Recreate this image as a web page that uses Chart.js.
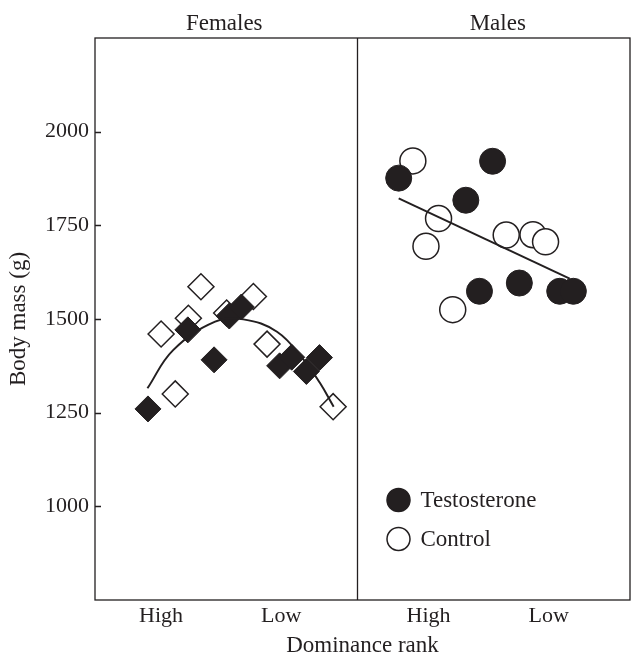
<!DOCTYPE html>
<html>
<head>
<meta charset="utf-8">
<script src="https://cdn.jsdelivr.net/npm/chart.js@4.4.0/dist/chart.umd.min.js"></script>
<style>
html, body { margin: 0; padding: 0; background: #fff; }
#wrap { width: 632px; height: 658px; }
</style>
</head>
<body>
<div id="wrap"><canvas id="chart" width="632" height="658"></canvas></div>
<script>
// Valores (eje x: rango de dominancia, 0-5 hembras, 5-10.2 machos)
const panelLabels = ['Females', 'Males'];
const panelSplit = 5;
const xTickPos = [1.26, 3.55, 6.36, 8.65];
const xTickLabels = ['High', 'Low', 'High', 'Low'];
const yTickValues = [1000, 1250, 1500, 1750, 2000];

const femTestX = [1.01, 1.77, 2.27, 2.56, 2.79, 3.52, 3.75, 4.03, 4.28];
const femTestY = [1260, 1471, 1391, 1508, 1532, 1375, 1398, 1360, 1397];
const femCtrlX = [1.26, 1.53, 1.78, 2.02, 2.51, 3.02, 3.28, 4.54];
const femCtrlY = [1460, 1300, 1502, 1586, 1516, 1560, 1433, 1266];
const femFitX = [1.00, 1.49, 2.29, 2.83, 3.47, 3.98, 4.29, 4.55];
const femFitY = [1315, 1417, 1493, 1499, 1466, 1391, 1329, 1266];

const maleTestX = [5.79, 7.58, 7.07, 7.33, 8.09, 8.86, 9.12];
const maleTestY = [1876, 1921, 1817, 1574, 1596, 1574, 1574];
const maleCtrlX = [6.06, 6.55, 6.31, 7.84, 8.35, 8.59, 6.82];
const maleCtrlY = [1922, 1768, 1694, 1724, 1725, 1706, 1525];
const maleFitX = [5.79, 9.05];
const maleFitY = [1822, 1608];

const legendLabels = ['Testosterone', 'Control'];

const ink = '#231f20';
const serif = '"Liberation Serif", "Times New Roman", serif';

const pts = (xs, ys) => xs.map((x, i) => ({ x: x, y: ys[i] }));

// marco, separador, marcas interiores, títulos de panel y leyenda
const framePlugin = {
    id: 'frame',
    afterDraw(chart) {
        const ctx = chart.ctx;
        const a = chart.chartArea;
        const xs = chart.scales.x;
        const ys = chart.scales.y;
        ctx.save();
        ctx.strokeStyle = ink;
        ctx.lineWidth = 1.3;
        ctx.strokeRect(a.left, a.top, a.right - a.left, a.bottom - a.top);
        const sx = Math.round(xs.getPixelForValue(panelSplit)) + 0.5;
        ctx.beginPath();
        ctx.moveTo(sx, a.top);
        ctx.lineTo(sx, a.bottom);
        yTickValues.forEach(v => {
            const py = Math.round(ys.getPixelForValue(v)) + 0.5;
            ctx.moveTo(a.left, py);
            ctx.lineTo(a.left + 6, py);
        });
        ctx.stroke();

        ctx.fillStyle = ink;
        ctx.font = '23px ' + serif;
        ctx.textAlign = 'center';
        ctx.textBaseline = 'middle';
        ctx.fillText(panelLabels[0], (a.left + sx) / 2 - 2, a.top - 14);
        ctx.fillText(panelLabels[1], (sx + a.right) / 2 + 4, a.top - 14);

        // leyenda
        const lx = sx + 41;
        const ly = [500, 539];
        ctx.textAlign = 'left';
        legendLabels.forEach((t, i) => {
            ctx.beginPath();
            ctx.arc(lx, ly[i], 11.5, 0, Math.PI * 2);
            ctx.fillStyle = i === 0 ? ink : '#fff';
            ctx.fill();
            ctx.lineWidth = 1.5;
            ctx.strokeStyle = ink;
            ctx.stroke();
            ctx.fillStyle = ink;
            ctx.fillText(t, lx + 22, ly[i] + 1);
        });
        ctx.restore();
    }
};

const ctx = document.getElementById('chart').getContext('2d');
new Chart(ctx, {
    type: 'scatter',
    data: {
        datasets: [
            {
                label: 'Females fit',
                type: 'line',
                data: pts(femFitX, femFitY),
                borderColor: ink,
                borderWidth: 2,
                pointRadius: 0,
                tension: 0.4,
                fill: false
            },
            {
                label: 'Males fit',
                type: 'line',
                data: pts(maleFitX, maleFitY),
                borderColor: ink,
                borderWidth: 2,
                pointRadius: 0,
                fill: false
            },
            {
                label: 'Females testosterone',
                data: pts(femTestX, femTestY),
                pointStyle: 'rectRot',
                pointRadius: 13,
                backgroundColor: ink,
                borderColor: ink,
                borderWidth: 1
            },
            {
                label: 'Males testosterone',
                data: pts(maleTestX, maleTestY),
                pointStyle: 'circle',
                pointRadius: 13,
                backgroundColor: ink,
                borderColor: ink,
                borderWidth: 1
            },
            {
                label: 'Females control',
                data: pts(femCtrlX, femCtrlY),
                pointStyle: 'rectRot',
                pointRadius: 13,
                backgroundColor: '#fff',
                borderColor: ink,
                borderWidth: 1.5
            },
            {
                label: 'Males control',
                data: pts(maleCtrlX, maleCtrlY),
                pointStyle: 'circle',
                pointRadius: 13,
                backgroundColor: '#fff',
                borderColor: ink,
                borderWidth: 1.5
            }
        ]
    },
    options: {
        responsive: false,
        animation: false,
        devicePixelRatio: 1,
        layout: { autoPadding: false, padding: { top: 38, right: 2, left: 0, bottom: 0 } },
        plugins: {
            legend: { display: false },
            tooltip: { enabled: false }
        },
        scales: {
            x: {
                type: 'linear',
                min: 0,
                max: 10.2,
                grid: { display: false, drawTicks: false },
                border: { display: false },
                afterBuildTicks: s => { s.ticks = xTickPos.map(v => ({ value: v })); },
                afterFit: s => { s.height = 58; s.paddingLeft = 0; s.paddingRight = 0; },
                ticks: {
                    autoSkip: false,
                    maxRotation: 0,
                    padding: 3,
                    color: ink,
                    font: { family: serif, size: 22 },
                    callback: (v, i) => xTickLabels[i]
                },
                title: {
                    display: true,
                    text: 'Dominance rank',
                    color: ink,
                    font: { family: serif, size: 23 },
                    padding: { top: 0, bottom: -2 }
                }
            },
            y: {
                min: 750,
                max: 2250,
                grid: { display: false, drawTicks: false },
                border: { display: false },
                afterBuildTicks: s => { s.ticks = yTickValues.map(v => ({ value: v })); },
                afterFit: s => { s.width = 95; },
                ticks: {
                    autoSkip: false,
                    padding: 6,
                    color: ink,
                    font: { family: serif, size: 22 },
                    callback: v => String(v)
                },
                title: {
                    display: true,
                    text: 'Body mass (g)',
                    color: ink,
                    font: { family: serif, size: 23 },
                    padding: { top: 5, bottom: 0 }
                }
            }
        }
    },
    plugins: [framePlugin]
});
</script>
</body>
</html>
